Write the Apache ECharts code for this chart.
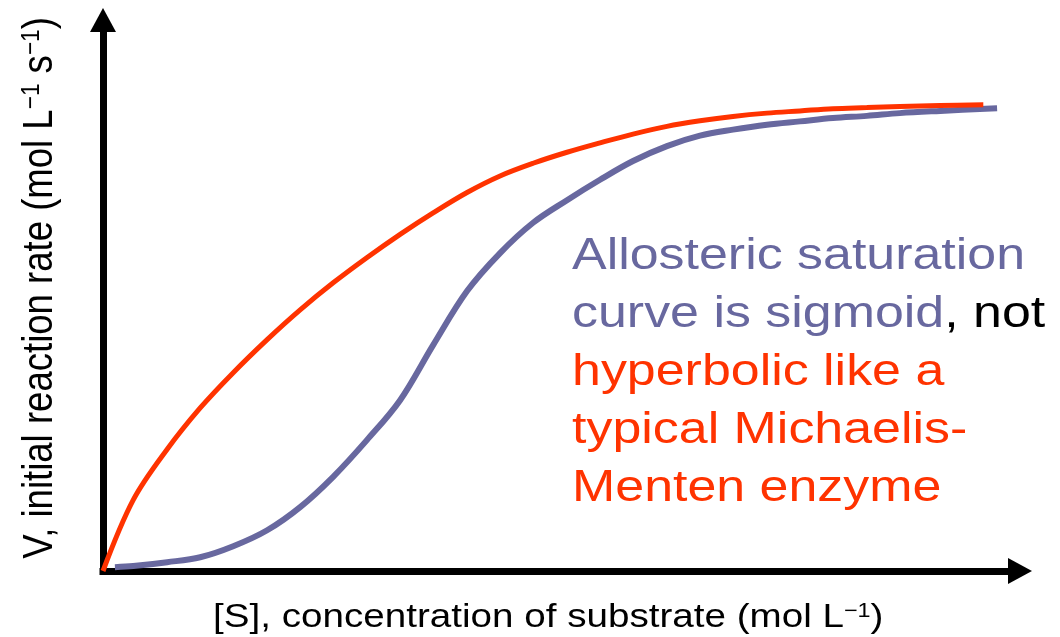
<!DOCTYPE html>
<html>
<head>
<meta charset="utf-8">
<script src="https://cdn.jsdelivr.net/npm/echarts@6/dist/echarts.min.js"></script>
<style>html,body{margin:0;padding:0;background:#fff}#c{width:1060px;height:637px}</style>
</head>
<body>
<div id="c"></div>
<script>
// Michaelis-Menten (hyperbolic) curve
const mmS = [0, 0.33, 0.70, 1.06, 1.42, 1.79, 2.15, 2.51, 2.88, 3.24, 3.60, 3.97, 4.33, 4.69, 5.06, 5.42, 5.78, 6.15, 6.51, 6.87, 7.24, 7.60, 7.96, 8.33, 8.69, 9.13, 9.60];
const mmV = [0, 1.29, 2.21, 2.96, 3.60, 4.20, 4.74, 5.23, 5.69, 6.11, 6.50, 6.87, 7.17, 7.40, 7.60, 7.77, 7.93, 8.07, 8.17, 8.25, 8.31, 8.35, 8.39, 8.41, 8.43, 8.45, 8.46];
// Allosteric (sigmoid) curve
const alS = [0.13, 0.33, 0.70, 1.06, 1.42, 1.79, 2.15, 2.51, 2.88, 3.24, 3.60, 3.97, 4.33, 4.69, 5.06, 5.42, 5.78, 6.15, 6.51, 6.87, 7.24, 7.60, 7.96, 8.33, 8.69, 9.13, 9.75];
const alV = [0.07, 0.09, 0.16, 0.25, 0.45, 0.74, 1.16, 1.71, 2.38, 3.10, 4.10, 5.08, 5.77, 6.32, 6.73, 7.10, 7.44, 7.71, 7.90, 8.01, 8.10, 8.16, 8.22, 8.26, 8.31, 8.35, 8.40];

const xName = ['[S], concentration of substrate (mol L', '−1', ')'];
const yName = ['V, initial reaction rate (mol L', '−1', ' s', '−1', ')'];
const noteLines = [
  [['b', 'Allosteric saturation']],
  [['b', 'curve is sigmoid'], ['k', ', not']],
  [['r', 'hyperbolic like a']],
  [['r', 'typical Michaelis-']],
  [['r', 'Menten enzyme']]
];

const RED = '#FF3300', BLUE = '#68689F';
const FONT = '"Liberation Sans", Arial, sans-serif';

const chart = echarts.init(document.getElementById('c'), null, {renderer: 'canvas'});

function supRich(fs, lh) {
  return {
    n: {fontSize: fs, fontFamily: FONT, fill: '#000', lineHeight: lh},
    s: {fontSize: Math.round(fs * 0.62), fontFamily: FONT, fill: '#000', lineHeight: lh, verticalAlign: 'top', padding: [Math.round(fs*0.05), 0, 0, 0]}
  };
}
function supText(parts) {
  return parts.map((p, i) => (i % 2 === 1 ? '{s|' + p + '}' : '{n|' + p + '}')).join('');
}
const noteText = noteLines.map(l => l.map(([k, t]) => '{' + k + '|' + t + '}').join('')).join('\n');

const axisLine = {
  show: true,
  symbol: ['none', 'triangle'],
  symbolSize: [26, 24],
  lineStyle: {color: '#000', width: 7, cap: 'square'}
};

chart.setOption({
  animation: false,
  backgroundColor: '#fff',
  grid: {left: 103, right: 40, top: 20, bottom: 66},
  xAxis: {
    type: 'value', min: 0, max: 10,
    axisLine: axisLine,
    axisTick: {show: false}, axisLabel: {show: false}, splitLine: {show: false}
  },
  yAxis: {
    type: 'value', min: 0, max: 10,
    axisLine: axisLine,
    axisTick: {show: false}, axisLabel: {show: false}, splitLine: {show: false}
  },
  series: [
    {
      type: 'line', name: 'Michaelis-Menten', smooth: 0.35, showSymbol: false, clip: false,
      data: mmS.map((s, i) => [s, mmV[i]]),
      lineStyle: {color: RED, width: 5, cap: 'butt'}, z: 3
    },
    {
      type: 'line', name: 'Allosteric', smooth: 0.35, showSymbol: false, clip: false,
      data: alS.map((s, i) => [s, alV[i]]),
      lineStyle: {color: BLUE, width: 6, cap: 'butt'}, z: 2
    }
  ],
  graphic: [
    {
      type: 'text', x: 572, y: 228, scaleX: 1.18, scaleY: 1,
      style: {
        text: noteText, align: 'left', verticalAlign: 'top',
        rich: {
          b: {fontSize: 44, fontFamily: FONT, fill: BLUE, lineHeight: 58},
          k: {fontSize: 44, fontFamily: FONT, fill: '#000', lineHeight: 58},
          r: {fontSize: 44, fontFamily: FONT, fill: RED, lineHeight: 58}
        }
      }
    },
    {
      type: 'text', x: 213, y: 618, scaleX: 1.17, scaleY: 1,
      style: {text: supText(xName), align: 'left', verticalAlign: 'middle', rich: supRich(33, 38)}
    },
    {
      type: 'text', x: 40, y: 288, rotation: Math.PI / 2, scaleX: 0.87, scaleY: 1,
      style: {text: supText(yName), align: 'center', verticalAlign: 'middle', rich: supRich(42, 46)}
    }
  ]
});
</script>
</body>
</html>
